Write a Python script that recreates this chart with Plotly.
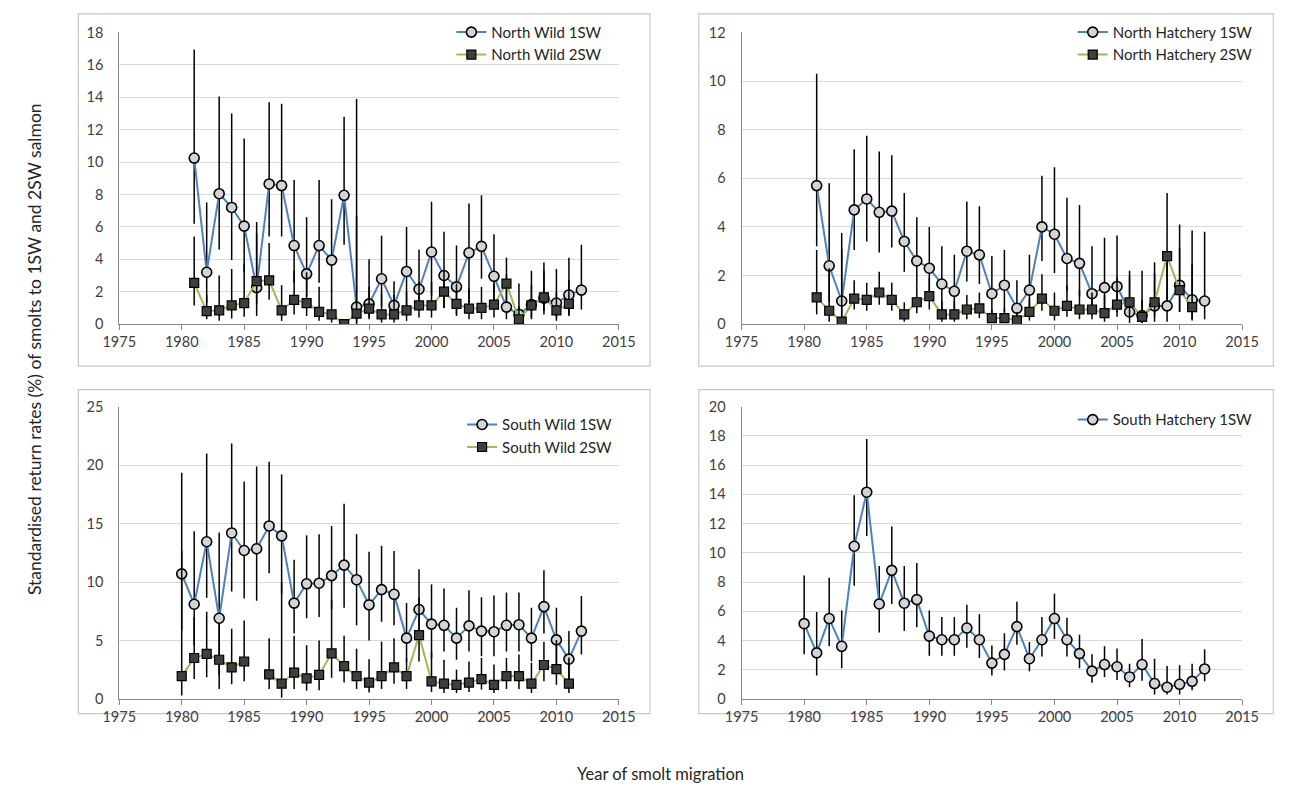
import plotly.graph_objects as go

W, H = 1303, 793

# ---------------- data ----------------
years_n1 = list(range(1981, 2013))
years_n2 = list(range(1981, 2012))
years_s1 = list(range(1980, 2013))
years_s2 = list(range(1980, 2012))

nw1 = [10.25, 3.2, 8.05, 7.2, 6.05, 2.25, 8.65, 8.55, 4.85, 3.1, 4.85, 3.95, 7.95, 1.05, 1.25, 2.8,
       1.15, 3.25, 2.15, 4.45, 3.0, 2.3, 4.4, 4.8, 2.95, 1.05, 0.6, 1.2, 1.6, 1.3, 1.8, 2.1]
nw1_hi = [16.95, 7.5, 14.05, 13.0, 11.45, 6.3, 13.7, 13.6, 8.9, 6.6, 8.9, 7.7, 12.8, 13.9, 4.0, 5.45,
          2.65, 6.0, 4.6, 7.55, 5.7, 4.85, 7.45, 7.95, 5.55, 3.1, 2.5, 3.3, 3.8, 3.4, 4.1, 4.9]
nw1_lo = [6.2, 1.3, 4.6, 3.95, 3.2, 0.5, 5.4, 5.4, 2.55, 1.7, 2.55, 2.0, 4.9, 0.0, 0.4, 1.1,
          0.4, 1.1, 0.9, 1.75, 1.0, 0.6, 1.3, 2.8, 1.0, 0.3, 0.1, 0.3, 0.6, 0.4, 0.6, 0.9]

nw2 = [2.55, 0.8, 0.85, 1.15, 1.3, 2.65, 2.7, 0.85, 1.5, 1.3, 0.75, 0.6, 0.0, 0.65, 0.95, 0.6,
       0.6, 0.85, 1.15, 1.15, 2.0, 1.25, 0.95, 1.0, 1.2, 2.5, 0.3, 1.15, 1.65, 0.85, 1.25]
nw2_hi = [5.4, 1.8, 3.0, 3.4, 3.7, 5.6, 5.0, 2.4, 3.3, 3.2, 2.3, 2.1, 0.3, 6.7, 2.3, 1.9,
          1.8, 2.0, 2.6, 2.6, 3.3, 2.5, 2.2, 2.3, 2.5, 4.1, 1.1, 2.4, 3.3, 2.0, 2.7]
nw2_lo = [1.15, 0.3, 0.2, 0.35, 0.45, 1.2, 1.5, 0.2, 0.6, 0.5, 0.2, 0.1, 0.0, 0.1, 0.3, 0.1,
          0.1, 0.2, 0.4, 0.4, 1.0, 0.5, 0.3, 0.3, 0.4, 1.3, 0.0, 0.4, 0.8, 0.2, 0.5]

nh1 = [5.7, 2.4, 0.95, 4.7, 5.15, 4.6, 4.65, 3.4, 2.6, 2.3, 1.65, 1.35, 3.0, 2.85, 1.25, 1.6,
       0.65, 1.4, 4.0, 3.7, 2.7, 2.5, 1.25, 1.5, 1.55, 0.5, 0.35, 0.75, 0.75, 1.6, 1.0, 0.95]
nh1_hi = [10.3, 5.8, 3.75, 7.2, 7.75, 7.1, 6.95, 5.4, 4.4, 4.0, 3.2, 2.85, 5.05, 4.85, 2.8, 3.05,
          1.8, 2.85, 6.1, 6.45, 5.2, 4.9, 3.2, 3.55, 3.65, 2.2, 2.2, 2.55, 2.8, 4.1, 3.85, 3.8]
nh1_lo = [3.2, 0.9, 0.05, 3.05, 3.4, 2.95, 3.15, 2.15, 1.55, 1.15, 0.5, 0.4, 1.75, 1.65, 0.3, 0.5,
          0.1, 0.4, 2.6, 2.1, 1.35, 1.15, 0.5, 0.5, 0.5, 0.05, 0.05, 0.1, 0.1, 0.5, 0.2, 0.2]

nh2 = [1.1, 0.55, 0.1, 1.05, 1.0, 1.3, 1.0, 0.4, 0.9, 1.15, 0.4, 0.4, 0.6, 0.65, 0.25, 0.25,
       0.15, 0.5, 1.05, 0.55, 0.75, 0.6, 0.6, 0.45, 0.8, 0.9, 0.3, 0.9, 2.8, 1.4, 0.7]
nh2_hi = [3.05, 2.3, 3.1, 1.8, 1.7, 2.15, 1.7, 0.9, 1.55, 1.9, 0.95, 0.95, 1.2, 1.3, 0.6, 0.65,
          0.5, 1.05, 2.05, 1.3, 1.6, 1.4, 1.3, 1.2, 1.95, 2.0, 1.0, 2.1, 5.4, 3.15, 2.45]
nh2_lo = [0.4, 0.1, 0.0, 0.6, 0.55, 0.8, 0.55, 0.1, 0.45, 0.6, 0.1, 0.1, 0.2, 0.25, 0.05, 0.05,
          0.0, 0.15, 0.55, 0.15, 0.3, 0.2, 0.2, 0.1, 0.3, 0.3, 0.05, 0.3, 0.95, 0.5, 0.15]

sw1 = [10.7, 8.1, 13.45, 6.9, 14.2, 12.7, 12.85, 14.8, 13.95, 8.2, 9.85, 9.9, 10.55, 11.45, 10.2, 8.05,
       9.35, 8.95, 5.2, 7.65, 6.4, 6.3, 5.2, 6.25, 5.8, 5.75, 6.3, 6.35, 5.2, 7.9, 5.05, 3.4, 5.8]
sw1_hi = [19.35, 14.35, 21.0, 14.25, 21.85, 18.6, 19.9, 20.3, 19.2, 11.9, 14.0, 14.1, 14.8, 16.7, 14.1, 12.6,
          13.1, 12.65, 8.2, 11.1, 9.8, 9.45, 7.8, 9.3, 8.7, 8.85, 9.1, 9.1, 7.8, 11.0, 7.8, 5.8, 8.8]
sw1_lo = [5.9, 4.6, 8.65, 2.0, 9.2, 8.6, 8.4, 10.75, 9.0, 5.6, 6.9, 7.0, 7.7, 7.8, 6.3, 5.0,
          6.6, 6.3, 3.2, 4.9, 3.5, 4.05, 3.35, 4.05, 3.65, 3.65, 4.05, 4.05, 3.2, 5.6, 2.4, 1.25, 3.8]

sw2 = [1.95, 3.5, 3.85, 3.35, 2.7, 3.2, None, 2.1, 1.3, 2.25, 1.75, 2.05, 3.9, 2.8, 1.95, 1.4,
       1.95, 2.7, 1.95, 5.45, 1.5, 1.3, 1.2, 1.4, 1.7, 1.2, 1.95, 1.95, 1.3, 2.9, 2.55, 1.3]
sw2_hi = [12.7, 7.0, 7.45, 6.5, 6.0, 6.7, None, 5.2, 10.0, 5.4, 4.6, 5.0, 8.5, 5.4, 4.3, 3.4,
          4.9, 5.2, 3.5, 8.65, 4.0, 3.35, 2.5, 3.2, 3.5, 2.95, 3.5, 3.8, 3.1, 4.9, 5.05, 3.55]
sw2_lo = [0.3, 1.7, 1.85, 0.85, 1.25, 1.5, None, 0.85, 0.1, 0.85, 0.7, 0.75, 1.8, 1.4, 0.85, 0.55,
          0.85, 1.3, 0.85, 3.2, 0.6, 0.5, 0.5, 0.6, 0.8, 0.5, 0.85, 0.85, 0.5, 1.5, 1.2, 0.5]

sh1 = [5.15, 3.15, 5.5, 3.6, 10.45, 14.15, 6.5, 8.8, 6.55, 6.8, 4.3, 4.05, 4.05, 4.85, 4.05, 2.45,
       3.05, 4.95, 2.75, 4.05, 5.5, 4.05, 3.1, 1.9, 2.35, 2.2, 1.5, 2.35, 1.05, 0.8, 1.0, 1.2, 2.05]
sh1_hi = [8.45, 5.95, 8.3, 6.05, 13.95, 17.8, 9.1, 11.8, 9.1, 9.3, 6.05, 5.6, 5.6, 6.45, 5.8, 3.65,
          4.5, 6.65, 3.9, 5.6, 7.2, 5.55, 4.4, 3.05, 3.6, 3.45, 2.4, 4.1, 2.75, 2.25, 2.3, 2.4, 3.4]
sh1_lo = [3.05, 1.6, 3.6, 2.1, 7.75, 11.15, 4.55, 6.5, 4.65, 4.9, 2.95, 2.95, 2.95, 3.5, 2.8, 1.6,
          1.95, 3.7, 1.9, 2.9, 4.1, 2.9, 2.1, 1.1, 1.5, 1.3, 0.8, 1.25, 0.3, 0.3, 0.3, 0.6, 1.2]

x_ticks = [1975, 1980, 1985, 1990, 1995, 2000, 2005, 2010, 2015]

# ---------------- styling ----------------
FONT = "Lato"
BLUE = "#4F81BD"
GREEN = "#9BBB59"
CIRCLE_FILL = "#D4D4D4"
SQUARE_FILL = "#3F3F3F"
GRID = "#D9D9D9"
AXIS = "#868686"
TXT = "#404040"


def px_x(p):
    return p / W


def px_y(p):
    return 1 - p / H


def err(vals, hi, lo):
    up = [None if v is None else round(h - v, 4) for v, h in zip(vals, hi)]
    dn = [None if v is None else round(v - l, 4) for v, l in zip(vals, lo)]
    return dict(type="data", symmetric=False, array=up, arrayminus=dn,
                color="black", thickness=1.5, width=0)


fig = go.Figure()


def add_series(x, y, hi, lo, name, kind, ax, legend):
    if kind == 1:
        marker = dict(symbol="circle", size=10, color=CIRCLE_FILL, line=dict(color="black", width=1.6))
        line = dict(color=BLUE, width=2)
    else:
        marker = dict(symbol="square", size=9, color=SQUARE_FILL, line=dict(color="black", width=1.2))
        line = dict(color=GREEN, width=2)
    fig.add_trace(go.Scatter(
        x=x, y=y, name=name, mode="lines+markers", marker=marker, line=line,
        error_y=err(y, hi, lo), connectgaps=False,
        xaxis="x" + ("" if ax == 1 else str(ax)), yaxis="y" + ("" if ax == 1 else str(ax)),
        legend=legend,
    ))


add_series(years_n1, nw1, nw1_hi, nw1_lo, "North Wild 1SW", 1, 1, "legend")
add_series(years_n2, nw2, nw2_hi, nw2_lo, "North Wild 2SW", 2, 1, "legend")
add_series(years_n1, nh1, nh1_hi, nh1_lo, "North Hatchery 1SW", 1, 2, "legend2")
add_series(years_n2, nh2, nh2_hi, nh2_lo, "North Hatchery 2SW", 2, 2, "legend2")
add_series(years_s1, sw1, sw1_hi, sw1_lo, "South Wild 1SW", 1, 3, "legend3")
add_series(years_s2, sw2, sw2_hi, sw2_lo, "South Wild 2SW", 2, 3, "legend3")
add_series(years_s1, sh1, sh1_hi, sh1_lo, "South Hatchery 1SW", 1, 4, "legend4")

# plot-area pixel boxes: (left, right, top, bottom)
boxes = {
    1: (105, 618, 24, 322),
    2: (744, 1258, 24, 322),
    3: (105, 618, 406.5, 705),
    4: (744, 1258, 406.5, 705),
}
yranges = {1: (18, 2), 2: (12, 2), 3: (25, 5), 4: (20, 2)}

layout = dict(
    width=W, height=H, margin=dict(l=0, r=0, t=0, b=0),
    paper_bgcolor="white", plot_bgcolor="white",
    font=dict(family=FONT, size=14, color=TXT),
    showlegend=True,
)

for i, (l, r, t, b) in boxes.items():
    sfx = "" if i == 1 else str(i)
    ymax, dt = yranges[i]
    layout["xaxis" + sfx] = dict(
        domain=[px_x(l), px_x(r)], range=[1975, 2015], anchor="y" + sfx,
        tickmode="array", tickvals=x_ticks, ticktext=[str(v) for v in x_ticks],
        showgrid=False, zeroline=False, showline=True, linecolor=AXIS, linewidth=1,
        ticks="outside", ticklen=5, tickcolor=AXIS, tickfont=dict(family=FONT, size=14.5, color=TXT),
    )
    layout["yaxis" + sfx] = dict(
        domain=[px_y(b), px_y(t)], range=[0, ymax], dtick=dt, anchor="x" + sfx,
        showgrid=True, gridcolor=GRID, gridwidth=1, zeroline=False,
        showline=True, linecolor=AXIS, linewidth=1, ticks="", ticklabelstandoff=12,
        tickfont=dict(family=FONT, size=14.5, color=TXT),
    )

leg_common = dict(bgcolor="rgba(0,0,0,0)", borderwidth=0, font=dict(family=FONT, size=15, color="#262626"),
                  xanchor="left", yanchor="top", tracegroupgap=0, itemwidth=30)
layout["legend"] = dict(x=px_x(446), y=px_y(7), **leg_common)
layout["legend2"] = dict(x=px_x(1084), y=px_y(7), **leg_common)
layout["legend3"] = dict(x=px_x(457), y=px_y(408), **leg_common)
layout["legend4"] = dict(x=px_x(1084), y=px_y(403), **leg_common)

# panel borders
shapes = []
for (x0, x1, y0, y1) in [(63, 650, 5, 365), (700, 1290, 5, 365), (63, 650, 389, 720), (700, 1290, 389, 720)]:
    shapes.append(dict(type="rect", xref="paper", yref="paper",
                       x0=px_x(x0), x1=px_x(x1), y0=px_y(y1), y1=px_y(y0),
                       line=dict(color="#C8C8C8", width=1.2), fillcolor="rgba(0,0,0,0)", layer="below"))
layout["shapes"] = shapes

layout["annotations"] = [
    dict(text="Standardised return rates (%) of smolts to 1SW and 2SW salmon", xref="paper", yref="paper",
         x=px_x(18), y=px_y(348), textangle=-90, showarrow=False, xanchor="center", yanchor="middle",
         font=dict(family=FONT, size=17.5, color="#262626")),
    dict(text="Year of smolt migration", xref="paper", yref="paper",
         x=px_x(661), y=px_y(782), showarrow=False, xanchor="center", yanchor="middle",
         font=dict(family=FONT, size=16.5, color="#262626")),
]

fig.update_layout(**layout)
fig.write_html("out.html")
